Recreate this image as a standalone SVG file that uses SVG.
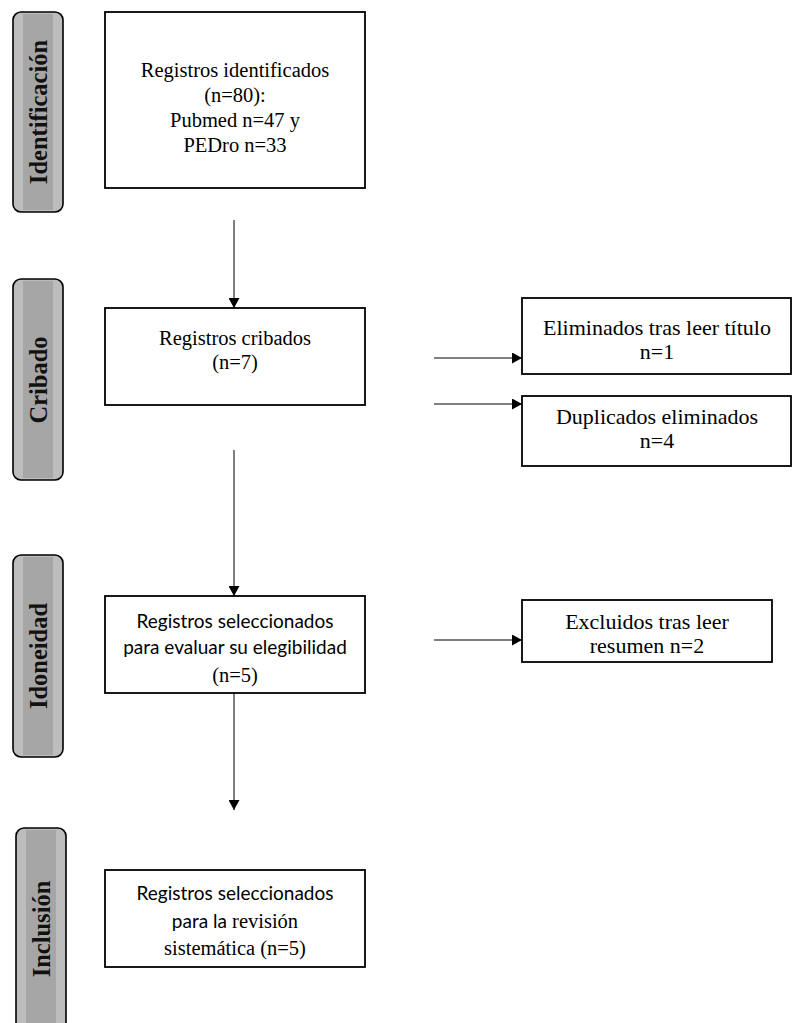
<svg xmlns="http://www.w3.org/2000/svg" width="801" height="1023" viewBox="0 0 801 1023">
<style>
.bar{fill:#bdbdbd;stroke:#000;stroke-width:1.6}
.stripe{fill:#a6a6a6}
.bt{font-family:'Liberation Serif',serif;font-weight:bold;font-size:24.5px;fill:#111;text-anchor:middle;dominant-baseline:central}
.box{fill:#fff;stroke:#000;stroke-width:1.8}
.t{font-family:'Liberation Serif',serif;font-size:20.5px;fill:#000;text-anchor:middle}
.tr{font-family:'Liberation Serif',serif;font-size:22px;fill:#000;text-anchor:middle}
.s{font-family:Lato,'Liberation Sans',sans-serif;font-size:19px;fill:#000;text-anchor:middle}
.ln{stroke:#000;stroke-width:1;fill:none}
</style>
<defs>
<marker id="ah" viewBox="0 0 10 11" refX="10" refY="5.5" markerWidth="10" markerHeight="11" markerUnits="userSpaceOnUse" orient="auto">
<path d="M0,0 L10,5.5 L0,11 z" fill="#000"/>
</marker>
</defs>
<g id="bar-identificacion">
<rect class="bar" x="13" y="12" width="50" height="200" rx="8"/>
<rect class="stripe" x="23" y="14" width="30" height="196"/>
<text class="bt" transform="translate(38,112) rotate(-90)">Identificación</text>
</g>
<g id="bar-cribado">
<rect class="bar" x="13" y="279" width="50" height="201" rx="8"/>
<rect class="stripe" x="23" y="281" width="30" height="197"/>
<text class="bt" transform="translate(38,380) rotate(-90)">Cribado</text>
</g>
<g id="bar-idoneidad">
<rect class="bar" x="13" y="555" width="50" height="202" rx="8"/>
<rect class="stripe" x="23" y="557" width="30" height="198"/>
<text class="bt" transform="translate(38,656) rotate(-90)">Idoneidad</text>
</g>
<g id="bar-inclusion">
<rect class="bar" x="16" y="828" width="50" height="210" rx="8"/>
<rect class="stripe" x="26" y="830" width="30" height="200"/>
<text class="bt" transform="translate(41,929) rotate(-90)">Inclusión</text>
</g>
<g id="n1">
<rect class="box" x="105" y="12" width="260" height="176"/>
<text class="t" x="235" y="77">Registros identificados</text>
<text class="t" x="235" y="102">(n=80):</text>
<text class="t" x="235" y="127">Pubmed n=47 y</text>
<text class="t" x="235" y="152">PEDro n=33</text>
</g>
<g id="n2">
<rect class="box" x="105" y="308" width="260" height="97"/>
<text class="t" x="235" y="345">Registros cribados</text>
<text class="t" x="235" y="369">(n=7)</text>
</g>
<g id="n3">
<rect class="box" x="522" y="298" width="269" height="76"/>
<text class="tr" x="657" y="335">Eliminados tras leer título</text>
<text class="tr" x="657" y="359">n=1</text>
</g>
<g id="n4">
<rect class="box" x="522" y="396" width="269" height="70"/>
<text class="tr" x="657" y="424">Duplicados eliminados</text>
<text class="tr" x="657" y="448">n=4</text>
</g>
<g id="n5">
<rect class="box" x="105" y="596" width="260" height="97"/>
<text class="s" x="235" y="628">Registros seleccionados</text>
<text class="s" x="235" y="654">para evaluar su elegibilidad</text>
<text class="t" x="235" y="682">(n=5)</text>
</g>
<g id="n6">
<rect class="box" x="522" y="600" width="250" height="62"/>
<text class="tr" x="647" y="629">Excluidos tras leer</text>
<text class="tr" x="647" y="653">resumen n=2</text>
</g>
<g id="n7">
<rect class="box" x="105" y="870" width="260" height="97"/>
<text class="s" x="235" y="900">Registros seleccionados</text>
<text class="t" x="235" y="928"><tspan class="s">para la</tspan> revisión</text>
<text class="t" x="235" y="955">sistemática (n=5)</text>
</g>
<g id="connectors">
<line class="ln" x1="234" y1="220" x2="234" y2="308" marker-end="url(#ah)"/>
<line class="ln" x1="434" y1="358" x2="522" y2="358" marker-end="url(#ah)"/>
<line class="ln" x1="434" y1="404" x2="522" y2="404" marker-end="url(#ah)"/>
<line class="ln" x1="234" y1="450" x2="234" y2="596" marker-end="url(#ah)"/>
<line class="ln" x1="434" y1="640" x2="522" y2="640" marker-end="url(#ah)"/>
<line class="ln" x1="234" y1="693" x2="234" y2="810" marker-end="url(#ah)"/>
</g>
</svg>
